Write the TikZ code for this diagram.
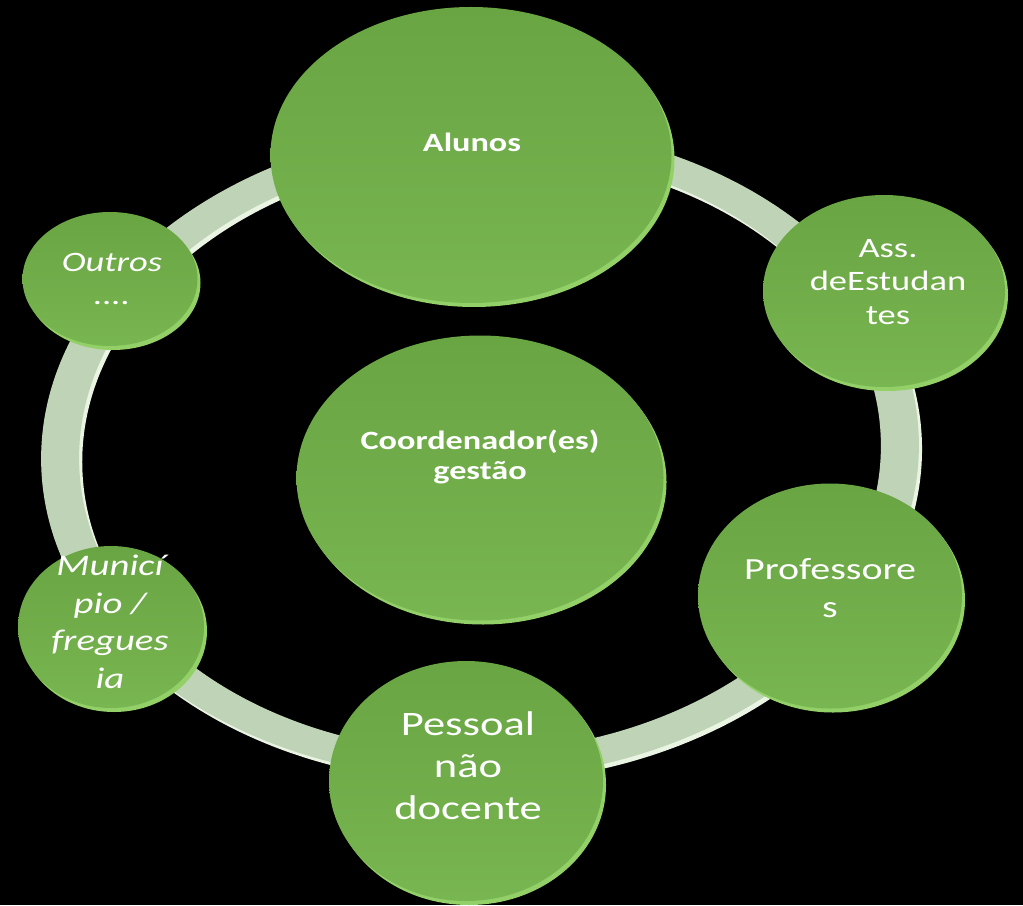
\documentclass[tikz,border=0pt]{standalone}
\usepackage{fontspec}
\setmainfont{Carlito}[FakeStretch=1.3]
\usetikzlibrary{shapes.geometric}
\definecolor{ringface}{HTML}{BFD4B6}
\definecolor{ringedge}{HTML}{EAF4E3}
\definecolor{gtop}{HTML}{69A543}
\definecolor{gbot}{HTML}{78B651}
\definecolor{rimgreen}{HTML}{93D068}
\newcommand\bubble[5]{%
  \fill[rimgreen] (#2+3,#3+4) ellipse [x radius=#4/2, y radius=#5/2];
  \node[bub, minimum width=#4*0.02cm, minimum height=#5*0.02cm] (#1) at (#2,#3) {};}
\begin{document}
\begin{tikzpicture}[x=0.02cm,y=-0.02cm,
  bub/.style={ellipse, inner sep=0pt, draw=none, top color=gtop, bottom color=gbot},
  lbl/.style={text=white, align=center, inner sep=0pt}]
\useasboundingbox (0,0) rectangle (1023,905);
\fill[black] (0,0) rectangle (1023,905);
% ring
\begin{scope}[rotate around={2:(480,452)}]
  \fill[ringedge, even odd rule]
    (483,456) ellipse [x radius=439, y radius=327]
    (483,456) ellipse [x radius=401, y radius=300];
  \fill[ringface, even odd rule]
    (480,452) ellipse [x radius=439, y radius=327]
    (480,452) ellipse [x radius=401, y radius=300];
\end{scope}
% bubbles
\bubble{alunos}{471}{155}{401}{296}
\bubble{outros}{110}{279}{175}{134}
\bubble{ass}{884}{291}{242}{192}
\bubble{prof}{830}{596}{264}{225}
\bubble{pessoal}{466}{781}{274}{240}
\bubble{munic}{111}{627}{186}{162}
\bubble{coord}{480}{478}{367}{285}
% labels
\node[lbl, font=\bfseries\fontsize{15}{17}\selectfont] (alunos-t) at (472,142) {Alunos};
\node[lbl, font=\bfseries\fontsize{15}{17}\selectfont] (coord-t) at (480,457) {Coordenador(es)\\gestão};
\node[lbl, font=\fontsize{16}{19}\selectfont] (ass-t) at (888,282) {Ass.\\deEstudan\\tes};
\node[lbl, font=\fontsize{17.5}{21.5}\selectfont] (prof-t) at (830,588) {Professore\\s};
\node[lbl, font=\fontsize{19.5}{23.8}\selectfont] (pessoal-t) at (468,766) {Pessoal\\não\\docente};
\node[lbl, font=\itshape\fontsize{17}{21.4}\selectfont] (munic-t) at (110,622) {Municí\\pio /\\fregues\\ia};
\node[lbl, font=\itshape\fontsize{16}{18.7}\selectfont] (outros-t) at (112,279) {Outros\\....};
\end{tikzpicture}
\end{document}
